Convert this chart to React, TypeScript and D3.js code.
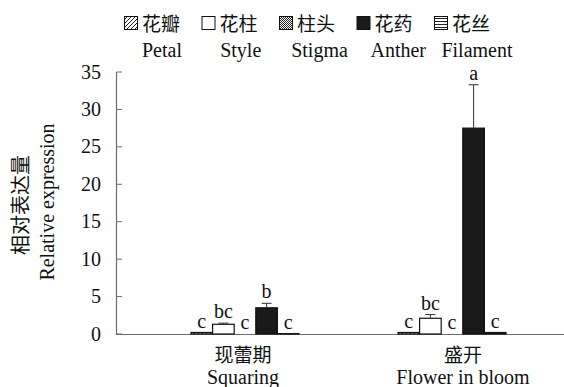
import React from 'react';
import * as d3 from 'd3';

const stages = ['现蕾期', '盛开'];
const stagesEn = ['Squaring', 'Flower in bloom'];
const tissues = ['Petal', 'Style', 'Stigma', 'Anther', 'Filament'];
const tissuesZh = ['花瓣', '花柱', '柱头', '花药', '花丝'];
const squaringValues = [0.2, 1.3, 0.0, 3.5, 0.05];
const squaringErrors = [0, 0.15, 0, 0.6, 0];
const squaringLetters = ['c', 'bc', 'c', 'b', 'c'];
const bloomValues = [0.2, 2.1, 0.0, 27.5, 0.2];
const bloomErrors = [0, 0.5, 0, 5.8, 0];
const bloomLetters = ['c', 'bc', 'c', 'a', 'c'];
const yTicks = [0, 5, 10, 15, 20, 25, 30, 35];

const W = 564;
const H = 387;
const FONT = "'Liberation Serif', 'Noto Sans CJK SC', serif";
const fills = ['url(#pHatch)', '#ffffff', 'url(#pCheck)', '#1a1a1a', 'url(#pLines)'];

export default function App() {
  const y = d3.scaleLinear().domain([0, 35]).range([334, 72]);
  const x = d3.scalePoint<string>().domain(stages).range([245, 452]);
  const labelX = d3.scalePoint<string>().domain(stages).range([243, 463]);
  const inner = d3.scaleBand<string>().domain(tissues).range([-54, 54]).paddingInner(0);
  const legendX = d3.scalePoint<string>().domain(tissues).range([124, 434]);
  const legendEnX = d3.scalePoint<string>().domain(tissues).range([162, 477]);

  const groups = [
    { stage: stages[0], values: squaringValues, errors: squaringErrors, letters: squaringLetters },
    { stage: stages[1], values: bloomValues, errors: bloomErrors, letters: bloomLetters },
  ];
  const axisColor = '#6b6b6b';

  return (
    <svg width={W} height={H} style={{ position: 'absolute', left: 0, top: 0, background: '#fff' }} fontFamily={FONT}>
      <defs>
        <pattern id="pHatch" width="4" height="4" patternUnits="userSpaceOnUse">
          <rect width="4" height="4" fill="#fff" />
          <path d="M-1,1 l2,-2 M0,4 l4,-4 M3,5 l2,-2" stroke="#222" strokeWidth="1" />
        </pattern>
        <pattern id="pCheck" width="2" height="2" patternUnits="userSpaceOnUse">
          <rect width="2" height="2" fill="#fff" />
          <rect width="1" height="1" fill="#222" />
          <rect x="1" y="1" width="1" height="1" fill="#222" />
        </pattern>
        <pattern id="pLines" width="3" height="3" patternUnits="userSpaceOnUse">
          <rect width="3" height="3" fill="#fff" />
          <rect width="3" height="1" fill="#222" />
        </pattern>
      </defs>

      {/* Legend */}
      {tissues.map((t, i) => {
        const lx = legendX(t) as number;
        return (
          <g key={t}>
            <rect x={lx + 0.5} y={16.5} width={13} height={13} fill={fills[i]} stroke="#111" strokeWidth={1} />
            <text x={lx + 18} y={31} fontSize={19} fill="#111">{tissuesZh[i]}</text>
            <text x={legendEnX(t)} y={57} fontSize={20} fill="#111" textAnchor="middle">{t}</text>
          </g>
        );
      })}

      {/* Y axis */}
      <line x1={116.5} x2={116.5} y1={y(35)} y2={y(0)} stroke={axisColor} strokeWidth={1.2} />
      {yTicks.map(v => (
        <g key={v}>
          <line x1={116.5} x2={122} y1={y(v)} y2={y(v)} stroke={axisColor} strokeWidth={1} />
          <text x={101} y={y(v) + 6.5} fontSize={20} textAnchor="end" fill="#111">{v}</text>
        </g>
      ))}
      {/* X axis */}
      <line x1={116} x2={W} y1={y(0) + 0.5} y2={y(0) + 0.5} stroke={axisColor} strokeWidth={1.2} />

      {/* Bars */}
      {groups.map(g => (
        <g key={g.stage}>
          {tissues.map((t, i) => {
            const bx = (x(g.stage) as number) + (inner(t) as number);
            const bw = inner.bandwidth();
            const v = g.values[i];
            const e = g.errors[i];
            const top = y(v);
            const errTop = y(v + e);
            const cx = bx + bw / 2;
            const h = y(0) - top;
            return (
              <g key={t}>
                {h > 0.3 && (
                  <rect x={bx} y={top} width={bw} height={h} fill={fills[i]} stroke="#111" strokeWidth={1.2} />
                )}
                {e > 0 && (
                  <g stroke="#333" strokeWidth={1}>
                    <line x1={cx} x2={cx} y1={top} y2={errTop} />
                    <line x1={cx - 5} x2={cx + 5} y1={errTop} y2={errTop} />
                  </g>
                )}
                <text x={cx} y={Math.min(errTop, top) - 5} fontSize={20} textAnchor="middle" fill="#111">{g.letters[i]}</text>
              </g>
            );
          })}
        </g>
      ))}

      {/* Category labels */}
      {stages.map((s, i) => (
        <g key={s}>
          <text x={labelX(s)} y={362} fontSize={19} textAnchor="middle" fill="#111">{s}</text>
          <text x={labelX(s)} y={384} fontSize={20} textAnchor="middle" fill="#111">{stagesEn[i]}</text>
        </g>
      ))}

      {/* Y titles */}
      <text transform="translate(28,205) rotate(-90)" fontSize={20} textAnchor="middle" fill="#111">相对表达量</text>
      <text transform="translate(54,202) rotate(-90)" fontSize={20} textAnchor="middle" fill="#111">Relative expression</text>
    </svg>
  );
}
